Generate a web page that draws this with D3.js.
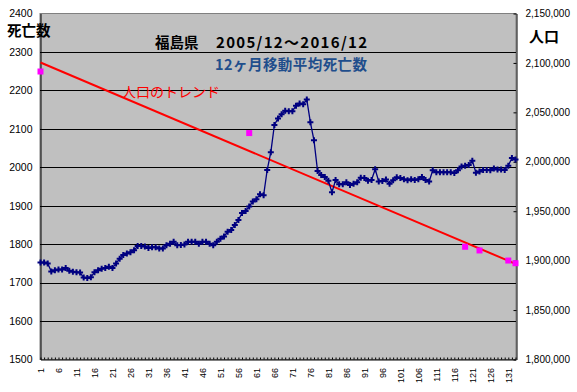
<!DOCTYPE html>
<html>
<head>
<meta charset="utf-8">
<script src="https://cdn.jsdelivr.net/npm/d3@7"></script>
<style>
  body { margin: 0; background: #fff; }
  text { font-family: Arial, "Liberation Sans", sans-serif; }
  .jp { font-family: "Noto Sans CJK JP", sans-serif; }
</style>
</head>
<body>
<div id="chart"></div>
<script>
// 12ヶ月移動平均死亡数, month index 1 = 2005/12 ... 133 = 2016/12
const months = d3.range(1, 134);
const deaths = [
  1752, 1752, 1750, 1729, 1732, 1734, 1734, 1738, 1731, 1728,
  1727, 1726, 1713, 1712, 1714, 1727, 1732, 1736, 1738, 1741,
  1738, 1750, 1762, 1772, 1776, 1779, 1784, 1795, 1795, 1794,
  1790, 1792, 1792, 1789, 1789, 1797, 1801, 1806, 1797, 1798,
  1799, 1806, 1806, 1806, 1801, 1806, 1806, 1801, 1797, 1806,
  1814, 1820, 1832, 1837, 1850, 1863, 1881, 1886, 1898, 1911,
  1917, 1930, 1927, 1993, 2039, 2110, 2127, 2138, 2147, 2146,
  2146, 2160, 2166, 2164, 2176, 2117, 2070, 1990, 1980, 1975,
  1965, 1935, 1967, 1956, 1956, 1961, 1954, 1957, 1961, 1973,
  1972, 1965, 1967, 1995, 1963, 1964, 1968, 1957, 1966, 1974,
  1972, 1969, 1966, 1969, 1967, 1969, 1975, 1967, 1963, 1992,
  1987, 1987, 1987, 1987, 1987, 1985, 1992, 2002, 2004, 2006,
  2017, 1986, 1989, 1993, 1993, 1992, 1997, 1994, 1994, 1993,
  2004, 2024, 2020
];

// population points (right axis)
const popMonths = [1, 59, 119, 123, 131, 133];
const popValues = [2091319, 2029064, 1914039, 1910300, 1900100, 1897400];

// population trend line end points
const trendMonths = [1, 133];
const trendValues = [2100400, 1896800];

const leftTicks = d3.range(1500, 2401, 100);
const rightTicks = d3.range(1800000, 2150001, 50000);
const xTickLabels = d3.range(1, 134, 5);

const width = 577, height = 392;
const plotLeft = 40, plotRight = 516, plotTop = 13, plotBottom = 359.5;

const svg = d3.select("#chart").append("svg")
  .attr("width", width)
  .attr("height", height);

const x = d3.scalePoint().domain(months).range([plotLeft + 0.5, plotRight - 0.5]);
const yL = d3.scaleLinear().domain([1500, 2400]).range([plotBottom, plotTop + 0.5]);
const yR = d3.scaleLinear().domain([1800000, 2150000]).range([plotBottom, plotTop + 0.5]);

// plot background
svg.append("rect")
  .attr("x", plotLeft).attr("y", plotTop + 0.5)
  .attr("width", plotRight - plotLeft).attr("height", plotBottom - plotTop - 0.5)
  .attr("fill", "#c0c0c0")
  .attr("stroke", "#808080")
  .attr("stroke-width", 1);

// gridlines
svg.append("g").selectAll("line")
  .data(leftTicks.slice(1, -1))
  .join("line")
  .attr("x1", plotLeft).attr("x2", plotRight)
  .attr("y1", d => Math.round(yL(d)) + 0.5)
  .attr("y2", d => Math.round(yL(d)) + 0.5)
  .attr("stroke", "#000")
  .attr("stroke-width", 1);

// left axis
const gL = svg.append("g")
  .attr("transform", `translate(${plotLeft + 0.5},0)`)
  .call(d3.axisLeft(yL).tickValues(leftTicks).tickSize(0).tickPadding(8).tickFormat(d3.format("d")));
gL.select(".domain").attr("stroke", "#000");
gL.selectAll("text").attr("font-size", "10.5px").attr("fill", "#000");

// right axis
const gR = svg.append("g")
  .attr("transform", `translate(${plotRight + 0.5},0)`)
  .call(d3.axisRight(yR).tickValues(rightTicks).tickSizeInner(-3).tickSizeOuter(0).tickPadding(9).tickFormat(d3.format(",")));
gR.select(".domain").attr("stroke", "#000");
gR.selectAll("line").attr("stroke", "#000");
gR.selectAll("text").attr("font-size", "10px").attr("fill", "#000");

// bottom minor ticks
const gMinor = svg.append("g")
  .attr("transform", `translate(0,${plotBottom})`)
  .call(d3.axisBottom(x).tickSizeInner(-2).tickSizeOuter(0).tickFormat(""));
gMinor.select(".domain").attr("stroke", "#000");
gMinor.selectAll("line").attr("stroke", "#000");

// bottom labels
const gB = svg.append("g")
  .attr("transform", `translate(0,${plotBottom})`)
  .call(d3.axisBottom(x).tickValues(xTickLabels).tickSize(0));
gB.select(".domain").remove();
gB.selectAll("text")
  .attr("transform", "rotate(-90)")
  .attr("text-anchor", "end")
  .attr("x", -8.5)
  .attr("y", 0)
  .attr("dy", "0.35em")
  .attr("font-size", "9px")
  .attr("fill", "#000");

// trend line
svg.append("line")
  .attr("x1", x(trendMonths[0])).attr("y1", yR(trendValues[0]))
  .attr("x2", x(trendMonths[1])).attr("y2", yR(trendValues[1]))
  .attr("stroke", "#ff0000")
  .attr("stroke-width", 2);

// death series
const line = d3.line()
  .x((d, i) => x(months[i]))
  .y(d => yL(d));
svg.append("path")
  .datum(deaths)
  .attr("d", line)
  .attr("fill", "none")
  .attr("stroke", "#000080")
  .attr("stroke-width", 1.3);

svg.append("g").selectAll("path")
  .data(deaths)
  .join("path")
  .attr("d", d3.symbol().type(d3.symbolCross).size(20))
  .attr("transform", (d, i) => `translate(${x(months[i])},${yL(d)})`)
  .attr("fill", "#000080");

// population squares
svg.append("g").selectAll("rect")
  .data(popValues)
  .join("rect")
  .attr("x", (d, i) => x(popMonths[i]) - 3)
  .attr("y", d => yR(d) - 3)
  .attr("width", 6).attr("height", 6)
  .attr("fill", "#ff00ff");

// titles
svg.append("text").attr("class", "jp")
  .attr("x", 7).attr("y", 36)
  .attr("font-size", "14.5px").attr("font-weight", "bold")
  .text("死亡数");

svg.append("text").attr("class", "jp")
  .attr("x", 529).attr("y", 42)
  .attr("font-size", "15px").attr("font-weight", "bold")
  .text("人口");

svg.append("text").attr("class", "jp")
  .attr("x", 155).attr("y", 48)
  .attr("font-size", "14.5px").attr("font-weight", "bold")
  .text("福島県");

svg.append("text").attr("class", "jp")
  .attr("x", 216).attr("y", 48)
  .attr("font-size", "15px").attr("font-weight", "bold")
  .attr("textLength", 151).attr("lengthAdjust", "spacing")
  .text("2005/12～2016/12");

svg.append("text").attr("class", "jp")
  .attr("x", 215).attr("y", 70)
  .attr("font-size", "14.5px").attr("font-weight", "bold")
  .attr("fill", "#1f4e8c")
  .attr("textLength", 152).attr("lengthAdjust", "spacing")
  .text("12ヶ月移動平均死亡数");

svg.append("text").attr("class", "jp")
  .attr("x", 122).attr("y", 97)
  .attr("font-size", "14px")
  .attr("fill", "#ff0000")
  .text("人口のトレンド");
</script>
</body>
</html>
